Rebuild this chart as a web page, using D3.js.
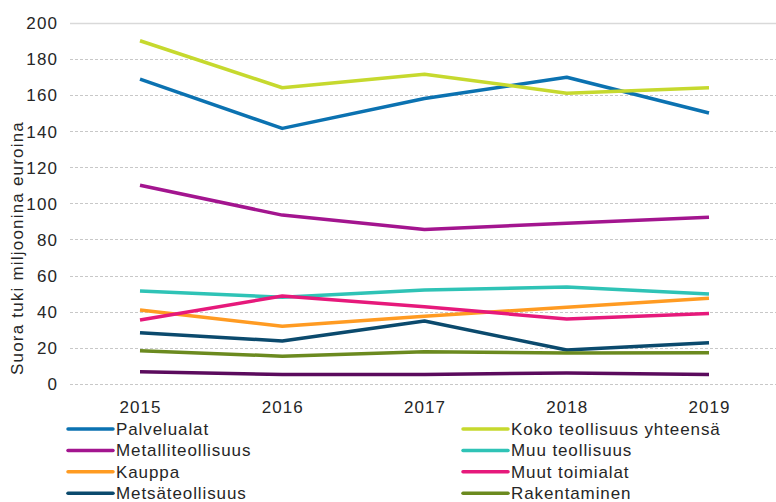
<!DOCTYPE html>
<html lang="fi">
<head>
    <meta charset="UTF-8">
    <title>Suora tuki miljoonina euroina</title>
    <script src="https://d3js.org/d3.v7.min.js"></script>
    <style>
        body { margin: 0; background: #fff; }
        text { font-family: "Liberation Sans", Arial, sans-serif; fill: #262626; }
    </style>
</head>
<body>
    <div id="chart"></div>

    <script>
        // Data
        const years = ["2015", "2016", "2017", "2018", "2019"];
        const yTicks = [0, 20, 40, 60, 80, 100, 120, 140, 160, 180, 200];

        const palvelualat = [168.8, 141.5, 158, 169.8, 150];
        const kokoTeollisuus = [190, 164, 171.5, 161, 164];
        const metalliteollisuus = [110, 93.5, 85.5, 89, 92.3];
        const muuTeollisuus = [51.5, 48, 52, 53.7, 49.8];
        const kauppa = [41, 32, 37.5, 42.5, 47.5];
        const muutToimialat = [35.4, 48.7, 42.8, 36, 39];
        const metsateollisuus = [28.4, 23.8, 34.9, 18.8, 22.9];
        const rakentaminen = [18.4, 15.4, 17.8, 17.1, 17.3];
        const kemianteollisuus = [6.8, 5.3, 5.3, 6.1, 5.3];

        const series = [
            { name: "Palvelualat", values: palvelualat, color: "#0b72b1" },
            { name: "Koko teollisuus yhteensä", values: kokoTeollisuus, color: "#c6d92e" },
            { name: "Metalliteollisuus", values: metalliteollisuus, color: "#a3158f" },
            { name: "Muu teollisuus", values: muuTeollisuus, color: "#2fc3b6" },
            { name: "Kauppa", values: kauppa, color: "#ff9b22" },
            { name: "Muut toimialat", values: muutToimialat, color: "#e6197b" },
            { name: "Metsäteollisuus", values: metsateollisuus, color: "#0b4a6d" },
            { name: "Rakentaminen", values: rakentaminen, color: "#6b8a1f" },
            { name: "Kemianteollisuus", values: kemianteollisuus, color: "#5b0b5d" }
        ];

        const width = 776;
        const height = 502;

        const svg = d3.select("#chart")
            .append("svg")
            .attr("width", width)
            .attr("height", height);

        // Scales
        const x = d3.scalePoint()
            .domain(years)
            .range([140, 709]);

        const y = d3.scaleLinear()
            .domain([0, 200])
            .range([384, 22.7]);

        // Gridlines
        svg.append("g")
            .selectAll("line")
            .data(yTicks)
            .enter()
            .append("line")
            .attr("x1", 70)
            .attr("x2", 776)
            .attr("y1", d => Math.round(y(d)) + 0.5)
            .attr("y2", d => Math.round(y(d)) + 0.5)
            .attr("stroke", d => d === 200 ? "#d9d9d9" : "#c8c8c8")
            .attr("stroke-width", d => d === 200 ? 1.5 : 1)
            .attr("stroke-dasharray", d => d === 200 ? null : "3,2");

        // Y axis labels
        const yAxis = svg.append("g")
            .attr("transform", "translate(58,0)")
            .call(d3.axisLeft(y).tickValues(yTicks).tickSize(0).tickPadding(0));
        yAxis.select(".domain").remove();
        yAxis.selectAll("text")
            .attr("font-size", 17)
            .attr("letter-spacing", 1.1)
            .attr("font-family", null)
            .attr("fill", "#262626")
            .attr("dy", "0.35em");

        // X axis labels
        const xAxis = svg.append("g")
            .attr("transform", "translate(0,400)")
            .call(d3.axisBottom(x).tickSize(0).tickPadding(0));
        xAxis.select(".domain").remove();
        xAxis.selectAll("text")
            .attr("font-size", 17)
            .attr("letter-spacing", 1.1)
            .attr("font-family", null)
            .attr("fill", "#262626")
            .attr("dy", "0.75em");

        // Y axis title
        svg.append("text")
            .attr("transform", "translate(23,248) rotate(-90)")
            .attr("text-anchor", "middle")
            .attr("font-size", 17)
            .attr("letter-spacing", 1.2)
            .text("Suora tuki miljoonina euroina");

        // Lines
        const line = d3.line()
            .x((d, i) => x(years[i]))
            .y(d => y(d));

        svg.append("g")
            .selectAll("path")
            .data(series)
            .enter()
            .append("path")
            .attr("d", d => line(d.values))
            .attr("fill", "none")
            .attr("stroke", d => d.color)
            .attr("stroke-width", 3.5)
            .attr("stroke-linejoin", "round");

        // Legend, two columns
        const legend = svg.append("g")
            .selectAll("g")
            .data(series)
            .enter()
            .append("g")
            .attr("transform", (d, i) => `translate(${i % 2 === 0 ? 68 : 463},${429 + Math.floor(i / 2) * 21.4})`);

        legend.append("line")
            .attr("x1", 0)
            .attr("x2", 45)
            .attr("stroke", d => d.color)
            .attr("stroke-width", 3.5)
            .attr("stroke-linecap", "round");

        legend.append("text")
            .attr("x", 48)
            .attr("dy", "0.35em")
            .attr("font-size", 17)
            .attr("letter-spacing", 0.9)
            .text(d => d.name);
    </script>
</body>
</html>
